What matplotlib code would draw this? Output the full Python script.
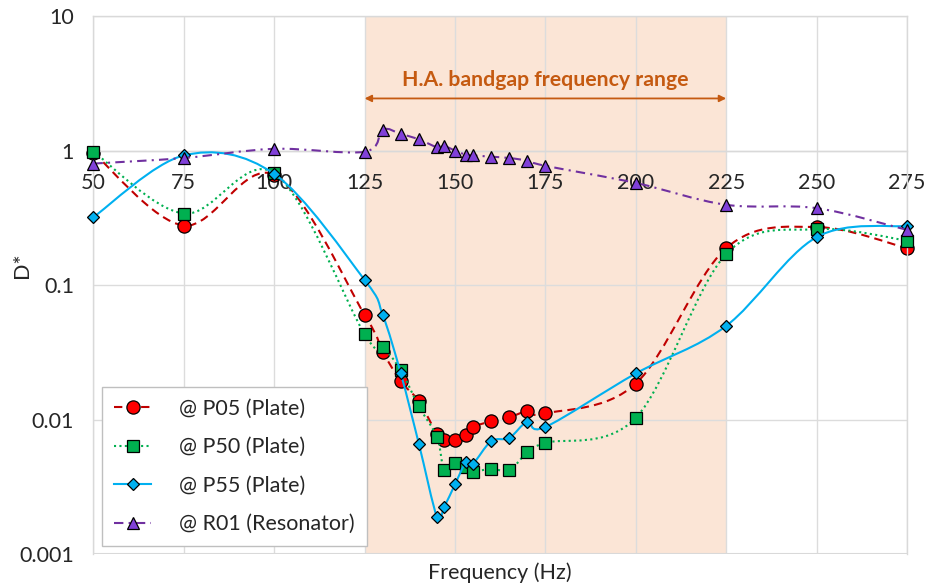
import numpy as np
import matplotlib
matplotlib.use("Agg")
import matplotlib.pyplot as plt
from matplotlib.path import Path
from matplotlib.patches import PathPatch
from matplotlib.lines import Line2D

plt.rcParams['font.family'] = ['Lato', 'DejaVu Sans']

freq = [50, 75, 100, 125, 130, 135, 140, 145, 147, 150, 153, 155, 160, 165, 170, 175, 200, 225, 250, 275]

p05 = [0.96, 0.277, 0.66, 0.060, 0.032, 0.0192, 0.0137, 0.0078, 0.0070, 0.0070, 0.0077, 0.0088,
       0.0097, 0.0104, 0.0115, 0.0111, 0.0185, 0.188, 0.27, 0.188]
p50 = [0.98, 0.34, 0.68, 0.043, 0.0347, 0.0232, 0.0125, 0.0074, 0.00424, 0.00472, 0.0044, 0.0041,
       0.0043, 0.0042, 0.0057, 0.0067, 0.0103, 0.17, 0.26, 0.214]
p55 = [0.32, 0.92, 0.67, 0.109, 0.060, 0.022, 0.0066, 0.00189, 0.00224, 0.0033, 0.0048, 0.0047,
       0.0069, 0.0073, 0.0096, 0.0088, 0.022, 0.0497, 0.227, 0.275]
r01 = [0.80, 0.88, 1.03, 0.98, 1.43, 1.33, 1.21, 1.06, 1.08, 1.0, 0.93, 0.92,
       0.90, 0.88, 0.84, 0.77, 0.574, 0.395, 0.373, 0.257]

labels = ['@ P05 (Plate)', '@ P50 (Plate)', '@ P55 (Plate)', '@ R01 (Resonator)']
band = (125, 225)
band_label = 'H.A. bandgap frequency range'


def smooth_path(x, y):
    # Catmull-Rom style bezier through the points, built in (x, log y) space
    px = np.asarray(x, float)
    py = np.log10(np.asarray(y, float))
    n = len(px)
    verts = [(px[0], py[0])]
    codes = [Path.MOVETO]
    for i in range(n - 1):
        i0 = max(i - 1, 0)
        i3 = min(i + 2, n - 1)
        c1 = (px[i] + (px[i + 1] - px[i0]) / 6, py[i] + (py[i + 1] - py[i0]) / 6)
        c2 = (px[i + 1] - (px[i3] - px[i]) / 6, py[i + 1] - (py[i3] - py[i]) / 6)
        verts += [c1, c2, (px[i + 1], py[i + 1])]
        codes += [Path.CURVE4] * 3
    verts = np.array(verts)
    verts[:, 1] = 10 ** verts[:, 1]
    return Path(verts, codes)


styles = [
    dict(lc='#C00000', ls=(0, (4, 2.5)), m='o', fc='#FF0000', ms=9.5),
    dict(lc='#00B050', ls=(0, (1, 1.6)), m='s', fc='#00B050', ms=8.5),
    dict(lc='#00B0F0', ls='-', m='D', fc='#00B0F0', ms=6.5),
    dict(lc='#7030A0', ls=(0, (4.5, 2.5, 1, 2.5)), m='^', fc='#8040D8', ms=9),
]

fig = plt.figure(figsize=(9.29, 5.86), dpi=100)
ax = fig.add_axes([0.1006, 0.0546, 0.8757, 0.918])

ax.set_yscale('log')
ax.set_xlim(50, 275)
ax.set_ylim(0.001, 10)

ax.axvspan(band[0], band[1], color='#FBE5D6', lw=0, zorder=0)

ax.set_xticks(np.arange(50, 276, 25))
ax.set_yticks([0.001, 0.01, 0.1, 1, 10])
ax.set_yticklabels(['0.001', '0.01', '0.1', '1', '10'])
ax.yaxis.set_minor_locator(matplotlib.ticker.NullLocator())
ax.tick_params(axis='both', length=0, labelsize=15.5, colors='#262626')
ax.tick_params(axis='y', pad=14)
ax.tick_params(axis='x', pad=16)

ax.grid(True, color='#DCDCDC', lw=1)
ax.set_axisbelow(True)
for s in ['top', 'right', 'left', 'bottom']:
    ax.spines[s].set_color('#D9D9D9')
    ax.spines[s].set_linewidth(1)
ax.spines['bottom'].set_position(('data', 1))
ax.axhline(0.001, color='#D9D9D9', lw=1.5, zorder=0.6)

series = [p05, p50, p55, r01]
handles = []
for k, (vals, st) in enumerate(zip(series, styles)):
    patch = PathPatch(smooth_path(freq, vals), fill=False, edgecolor=st['lc'], lw=1.5,
                      linestyle=st['ls'], capstyle='butt', zorder=2 + k)
    ax.add_patch(patch)
    ax.plot(freq, vals, ls='none', marker=st['m'], mfc=st['fc'], mec='black', mew=0.9,
            ms=st['ms'], zorder=2.5 + k, clip_on=False)
    handles.append(Line2D([], [], color=st['lc'], ls=st['ls'], lw=1.5, marker=st['m'],
                          mfc=st['fc'], mec='black', mew=0.9, ms=st['ms']))

ax.annotate('', xy=(band[0], 2.44), xytext=(band[1], 2.44),
            arrowprops=dict(arrowstyle='<|-|>', color='#C55A11', lw=1.3,
                            shrinkA=0, shrinkB=0, mutation_scale=10))
ax.text(175, 3.34, band_label, ha='center', va='center', fontsize=15.3,
        fontweight='bold', color='#C55A11')

leg = ax.legend(handles, labels, loc='lower left', bbox_to_anchor=(0.0104, 0.0149),
                borderaxespad=0, fontsize=15.5, handlelength=1.75, handletextpad=1.3,
                labelspacing=0.86, borderpad=0.55, fancybox=False, framealpha=1,
                edgecolor='#BFBFBF', numpoints=1)
leg.set_zorder(10)
leg.get_frame().set_linewidth(1)
for t in leg.get_texts():
    t.set_color('#262626')

ax.set_xlabel('Frequency (Hz)', fontsize=15.5, color='#262626')
ax.xaxis.set_label_coords(0.5, -0.015)
ax.set_ylabel('D*', fontsize=15.5, color='#262626')
ax.yaxis.set_label_coords(-0.075, 0.537)

fig.savefig('out.png', dpi=100)
